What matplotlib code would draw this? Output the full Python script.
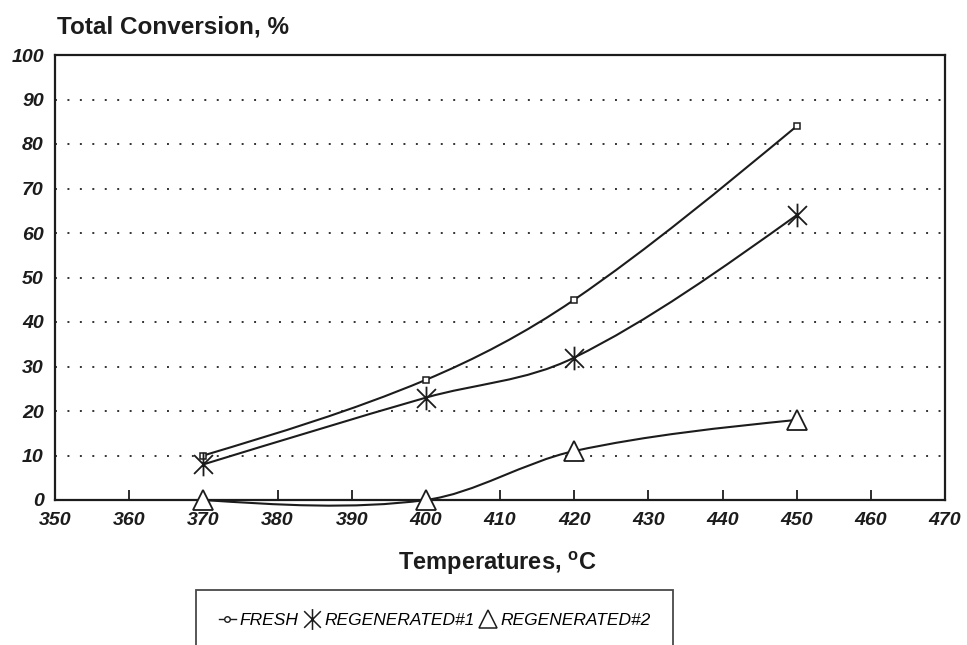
"""Total conversion vs. temperature for fresh and regenerated catalyst."""
import matplotlib
matplotlib.use("Agg")
import matplotlib.pyplot as plt
import numpy as np
from matplotlib.lines import Line2D
from matplotlib.patches import PathPatch
from matplotlib.path import Path

plt.rcParams["font.family"] = ["Liberation Sans", "DejaVu Sans"]
plt.rcParams["mathtext.fontset"] = "custom"
plt.rcParams["mathtext.rm"] = "Liberation Sans:bold"
plt.rcParams["mathtext.bf"] = "Liberation Sans:bold"

temps = [370, 400, 420, 450]
fresh = [10, 27, 45, 84]
regen1 = [8, 23, 32, 64]
regen2 = [0, 0, 11, 18]
series_names = ["FRESH", "REGENERATED#1", "REGENERATED#2"]
x_ticks = list(range(350, 471, 10))
y_ticks = list(range(0, 101, 10))

INK = "#1c1c1c"

# six-armed asterisk: vertical bar plus an X
STAR = Path([(0, -1), (0, 1), (-0.8, -0.8), (0.8, 0.8), (-0.8, 0.8), (0.8, -0.8)],
            [Path.MOVETO, Path.LINETO, Path.MOVETO, Path.LINETO,
             Path.MOVETO, Path.LINETO])


def smooth_path(xs, ys):
    """Bezier path through the points (cubic Hermite, natural end slopes)."""
    x = np.asarray(xs, float)
    y = np.asarray(ys, float)
    n = len(x)
    d = np.zeros(n)
    d[1:-1] = (y[2:] - y[:-2]) / (x[2:] - x[:-2])
    d[0] = (3 * (y[1] - y[0]) / (x[1] - x[0]) - d[1]) / 2
    d[-1] = (3 * (y[-1] - y[-2]) / (x[-1] - x[-2]) - d[-2]) / 2
    verts = [(x[0], y[0])]
    codes = [Path.MOVETO]
    for i in range(n - 1):
        h = (x[i + 1] - x[i]) / 3
        verts += [(x[i] + h, y[i] + h * d[i]),
                  (x[i + 1] - h, y[i + 1] - h * d[i + 1]),
                  (x[i + 1], y[i + 1])]
        codes += [Path.CURVE4] * 3
    return Path(verts, codes)


fig = plt.figure(figsize=(9.67, 6.45), dpi=100)
ax = fig.add_axes([55 / 967, 145 / 645, 890 / 967, 445 / 645])

styles = [
    dict(marker="s", ms=5, mew=1.1, mfc="white"),
    dict(marker=STAR, ms=17, mew=1.3, mfc="none"),
    dict(marker="^", ms=14, mew=1.3, mfc="white"),
]
for ys, st in zip([fresh, regen1, regen2], styles):
    ax.add_patch(PathPatch(smooth_path(temps, ys), fill=False, edgecolor=INK,
                           lw=1.5, clip_on=False, zorder=3))
    ax.plot(temps, ys, ls="none", color=INK, mec=INK, clip_on=False,
            zorder=4, **st)

for y in y_ticks[1:-1]:
    ax.axhline(y, color="#333333", lw=1.4, ls=(0, (1, 5.4)), zorder=1)

ax.set_xlim(350, 470)
ax.set_ylim(0, 100)
ax.set_xticks(x_ticks)
ax.set_yticks(y_ticks)
ax.tick_params(axis="x", direction="in", length=7, width=1.3, pad=8.5,
               labelsize=14, colors=INK)
ax.tick_params(axis="y", length=0, pad=8, labelsize=14, colors=INK)
for lab in ax.get_xticklabels() + ax.get_yticklabels():
    lab.set_fontstyle("italic")
    lab.set_fontweight("bold")
for sp in ax.spines.values():
    sp.set_linewidth(1.6)
    sp.set_color(INK)

fig.text(57 / 967, 1 - 27 / 645, "Total Conversion, %", ha="left", va="center",
         fontsize=17.5, fontweight="bold", color=INK)
fig.text(497 / 967, 1 - 563 / 645, r"Temperatures, $^{\mathbf{o}}$C",
         ha="center", va="center", fontsize=17, fontweight="bold", color=INK)

handles = [
    Line2D([], [], color=INK, lw=1.0, marker="o", ms=4, mfc="white", mec=INK),
    Line2D([], [], color="none", marker=STAR, ms=15, mew=1.1, mec=INK),
    Line2D([], [], color="none", marker="^", ms=13, mew=1.1, mfc="white", mec=INK),
]
leg = fig.legend(handles, series_names, loc="upper left",
                 bbox_to_anchor=(196 / 967, 1 - 590 / 645), ncol=3,
                 frameon=True, fancybox=False, handlelength=1.0,
                 handletextpad=0.2, columnspacing=0.3, borderpad=1.3,
                 borderaxespad=0, prop=dict(style="italic", size=12.5))
leg.get_frame().set_edgecolor(INK)
leg.get_frame().set_linewidth(1.3)

fig.savefig("out.png", dpi=100, facecolor="white")
